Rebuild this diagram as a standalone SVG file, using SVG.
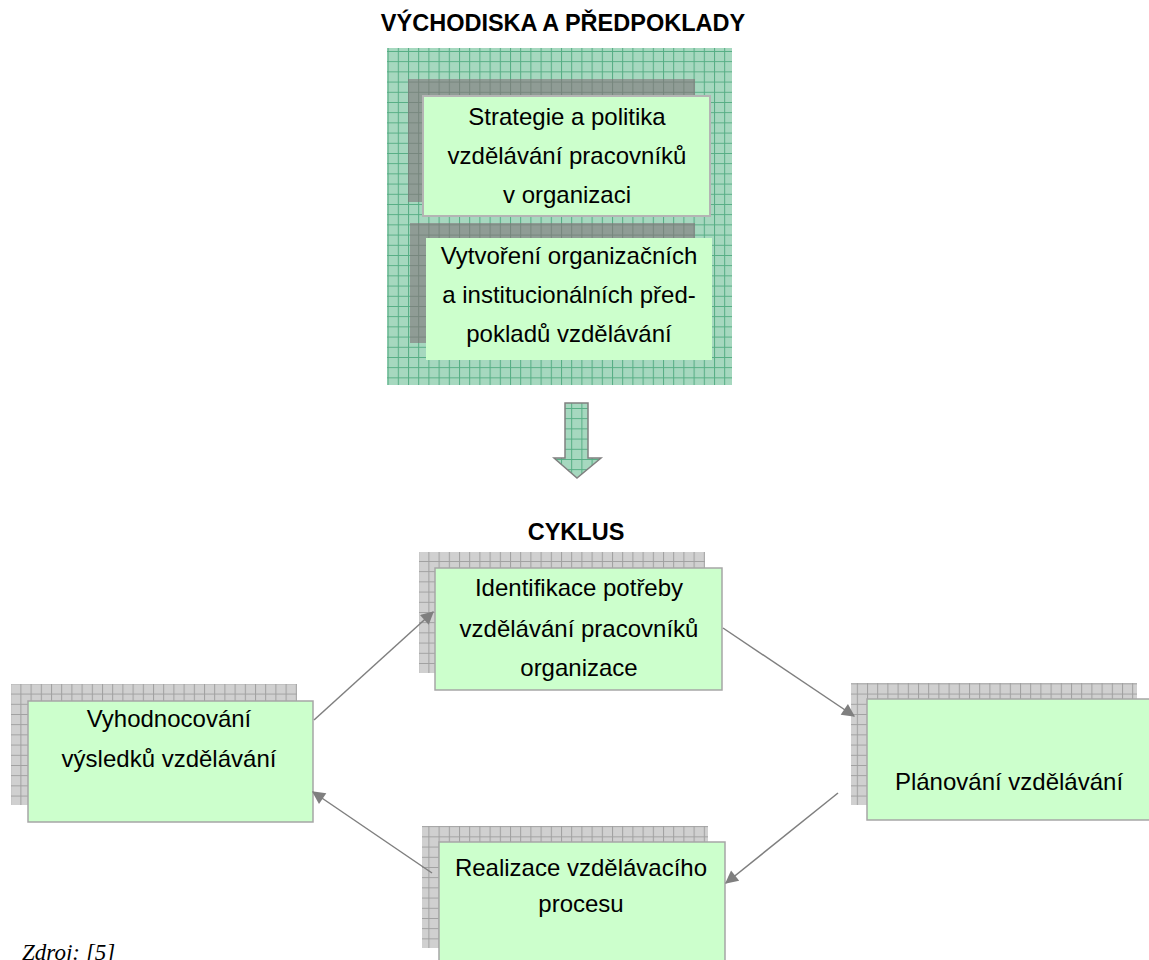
<svg xmlns="http://www.w3.org/2000/svg" width="1149" height="960" viewBox="0 0 1149 960">
<defs>
<pattern id="pg" width="10.2" height="10.2" patternUnits="userSpaceOnUse">
<rect width="10.2" height="10.2" fill="#a6d8bf"/>
<path d="M0 0.5H10.2M0.5 0V10.2" stroke="#55ad84" stroke-width="1"/>
</pattern>
<pattern id="pgr" width="10.2" height="10.2" patternUnits="userSpaceOnUse">
<rect width="10.2" height="10.2" fill="#d0d0d0"/>
<path d="M0 0.5H10.2M0.5 0V10.2" stroke="#a0a0a0" stroke-width="1"/>
</pattern>
<pattern id="pdk" width="10.2" height="10.2" patternUnits="userSpaceOnUse">
<rect width="10.2" height="10.2" fill="#8f9c95"/>
<path d="M0 0.5H10.2M0.5 0V10.2" stroke="#76867d" stroke-width="1"/>
</pattern>
<marker id="ah" viewBox="0 0 10 10" refX="9" refY="5" markerWidth="16" markerHeight="13" markerUnits="userSpaceOnUse" orient="auto">
<path d="M0 0L10 5L0 10Z" fill="#7f7f7f"/>
</marker>
</defs>
<style>
.t{font-family:"Liberation Sans",Arial,sans-serif;font-size:24px;fill:#000;text-anchor:middle}
.h{font-family:"Liberation Sans",Arial,sans-serif;font-size:23.5px;font-weight:bold;fill:#000;text-anchor:middle}
.box{fill:#ccffcc;stroke:#a6a6a6;stroke-width:1.5}
.sh{fill:url(#pgr)}
.c{stroke:#7f7f7f;stroke-width:1.5;fill:none;marker-end:url(#ah)}
</style>
<rect width="1149" height="960" fill="#fff"/>
<text class="h" x="563" y="31">VÝCHODISKA A PŘEDPOKLADY</text>
<g id="vychodiska">
<rect x="387" y="48" width="345" height="337" fill="url(#pg)"/>
<rect x="408" y="79" width="287" height="123" fill="url(#pdk)"/>
<rect x="423" y="96" width="287" height="120" fill="#ccffcc" stroke="#b4b4b4" stroke-width="2"/>
<text class="t" x="567" y="125">Strategie a politika</text>
<text class="t" x="567" y="164">vzdělávání pracovníků</text>
<text class="t" x="567" y="203">v organizaci</text>
<rect x="410" y="223" width="285" height="120" fill="url(#pdk)"/>
<rect x="426" y="238" width="286" height="122" fill="#ccffcc"/>
<text class="t" x="569" y="264">Vytvoření organizačních</text>
<text class="t" x="569" y="303">a institucionálních před-</text>
<text class="t" x="569" y="342">pokladů vzdělávání</text>
</g>
<g id="sipka">
<path d="M565 403H588V458H601L577 478L554 458H565Z" fill="url(#pg)" stroke="#808080" stroke-width="1.5"/>
</g>
<text class="h" x="576" y="540">CYKLUS</text>
<g id="identifikace">
<rect class="sh" x="419" y="552" width="286" height="121"/>
<rect class="box" x="435" y="568" width="287" height="122"/>
<text class="t" x="579" y="596">Identifikace potřeby</text>
<text class="t" x="579" y="637">vzdělávání pracovníků</text>
<text class="t" x="579" y="676">organizace</text>
</g>
<g id="vyhodnocovani">
<rect class="sh" x="11" y="684" width="286" height="121"/>
<rect class="box" x="28" y="701" width="285" height="121"/>
<text class="t" x="169" y="727">Vyhodnocování</text>
<text class="t" x="169" y="767">výsledků vzdělávání</text>
</g>
<g id="planovani">
<rect class="sh" x="851" y="683" width="286" height="122"/>
<rect class="box" x="867" y="699" width="290" height="121"/>
<text class="t" x="1009" y="790">Plánování vzdělávání</text>
</g>
<g id="realizace">
<rect class="sh" x="422" y="826" width="286" height="122"/>
<rect class="box" x="439" y="842" width="286" height="130"/>
<text class="t" x="581" y="876">Realizace vzdělávacího</text>
<text class="t" x="581" y="912">procesu</text>
</g>
<g id="konektory">
<line class="c" x1="314" y1="720" x2="433" y2="612"/>
<line class="c" x1="723" y1="628" x2="854" y2="716"/>
<line class="c" x1="838" y1="793" x2="726" y2="883"/>
<line class="c" x1="432" y1="873" x2="313" y2="792"/>
</g>
<text x="22" y="960" font-family="Liberation Serif,'Times New Roman',serif" font-style="italic" font-size="23">Zdroj: [5]</text>
</svg>
